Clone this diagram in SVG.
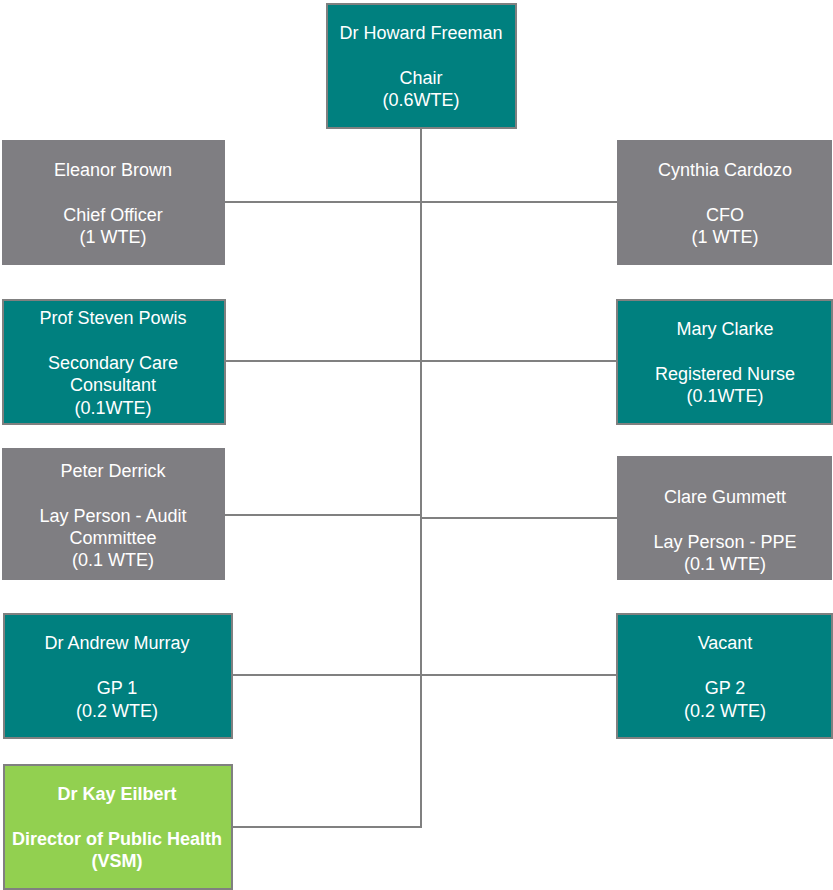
<svg xmlns="http://www.w3.org/2000/svg" width="833" height="890" viewBox="0 0 833 890">
<style>
.teal{fill:#00807f;stroke:#808080;stroke-width:2}
.grey{fill:#7f7e82}
.green{fill:#92d050;stroke:#808080;stroke-width:2}
text{font-family:"Liberation Sans",Arial,sans-serif;font-size:18px;fill:#ffffff;text-anchor:middle}
.b{font-weight:bold}
.conn{stroke:#808080;stroke-width:2;fill:none}
</style>
<rect width="833" height="890" fill="#ffffff"/>
<g id="connectors">
<path class="conn" d="M421,128 V827 H232"/>
<path class="conn" d="M225,202 H617"/>
<path class="conn" d="M225,361 H617"/>
<path class="conn" d="M225,515 H421 V518 H617"/>
<path class="conn" d="M232,675 H617"/>
</g>
<g id="chair">
<rect class="teal" x="327" y="4" width="189" height="124"/>
<text x="421" y="39">Dr Howard Freeman</text>
<text x="421" y="84">Chair</text>
<text x="421" y="106">(0.6WTE)</text>
</g>
<g id="eleanor">
<rect class="grey" x="2" y="140" width="223" height="125"/>
<text x="113" y="176">Eleanor Brown</text>
<text x="113" y="221">Chief Officer</text>
<text x="113" y="243">(1 WTE)</text>
</g>
<g id="cynthia">
<rect class="grey" x="617" y="140" width="215" height="125"/>
<text x="725" y="176">Cynthia Cardozo</text>
<text x="725" y="221">CFO</text>
<text x="725" y="243">(1 WTE)</text>
</g>
<g id="powis">
<rect class="teal" x="3" y="300" width="222" height="124"/>
<text x="113" y="324">Prof Steven Powis</text>
<text x="113" y="369">Secondary Care</text>
<text x="113" y="391">Consultant</text>
<text x="113" y="414">(0.1WTE)</text>
</g>
<g id="clarke">
<rect class="teal" x="617" y="300" width="215" height="124"/>
<text x="725" y="335">Mary Clarke</text>
<text x="725" y="380">Registered Nurse</text>
<text x="725" y="402">(0.1WTE)</text>
</g>
<g id="derrick">
<rect class="grey" x="2" y="448" width="223" height="132"/>
<text x="113" y="477">Peter Derrick</text>
<text x="113" y="522">Lay Person - Audit</text>
<text x="113" y="544">Committee</text>
<text x="113" y="566">(0.1 WTE)</text>
</g>
<g id="gummett">
<rect class="grey" x="617" y="456" width="215" height="124"/>
<text x="725" y="503">Clare Gummett</text>
<text x="725" y="548">Lay Person - PPE</text>
<text x="725" y="570">(0.1 WTE)</text>
</g>
<g id="murray">
<rect class="teal" x="4" y="614" width="228" height="124"/>
<text x="117" y="649">Dr Andrew Murray</text>
<text x="117" y="694">GP 1</text>
<text x="117" y="717">(0.2 WTE)</text>
</g>
<g id="vacant">
<rect class="teal" x="617" y="614" width="215" height="124"/>
<text x="725" y="649">Vacant</text>
<text x="725" y="694">GP 2</text>
<text x="725" y="717">(0.2 WTE)</text>
</g>
<g id="eilbert">
<rect class="green" x="4" y="765" width="228" height="124"/>
<text class="b" x="117" y="800">Dr Kay Eilbert</text>
<text class="b" x="117" y="845">Director of Public Health</text>
<text class="b" x="117" y="867">(VSM)</text>
</g>
</svg>
